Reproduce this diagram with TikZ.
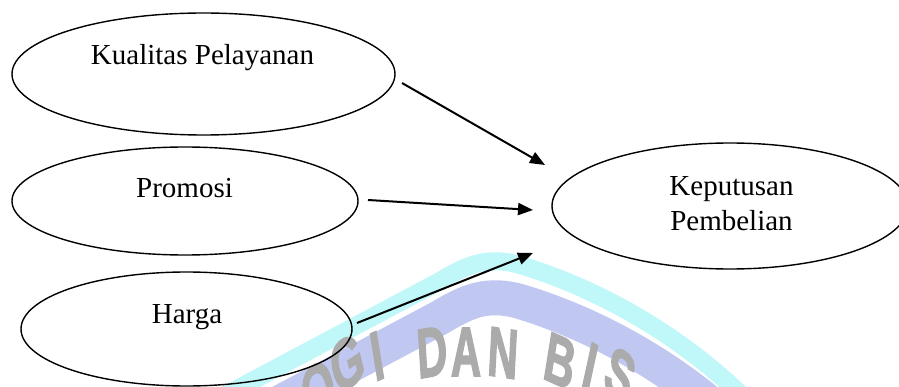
\documentclass[tikz,border=0pt]{standalone}
\usepackage{fontspec}
\setmainfont{Liberation Serif}
\newfontfamily\wmfont[FakeBold=2.5]{Liberation Sans}
\usetikzlibrary{shapes.geometric,arrows.meta}
\definecolor{wmcyan}{HTML}{C0F8FA}
\definecolor{wmblue}{HTML}{C0C8F2}
\definecolor{wmgrey}{HTML}{ABABAB}
\tikzset{
  oval/.style={ellipse, draw=black, line width=1.4pt, inner sep=0pt},
  lbl/.style={font=\fontsize{29}{35}\selectfont, inner sep=0pt},
  link/.style={line width=2pt, -{Triangle[length=15pt,width=12pt]}},
  wmletter/.style={font=\wmfont\bfseries\fontsize{70}{70}\selectfont, text=wmgrey, inner sep=0pt, xscale=0.6}
}
\begin{document}
\begin{tikzpicture}[x=1pt,y=-1pt]
\useasboundingbox (0,0) rectangle (899,387);
\fill[white] (0,0) rectangle (899,387);
% watermark
\begin{scope}
  \clip (0,0) rectangle (899,387);
  \draw[wmcyan, line width=18pt, yshift=-7pt]
    (190,407) -- (440,274) .. controls (468,257) and (488,249) .. (520,258)
    .. controls (600,282) and (690,332) .. (760,407);
  \draw[wmblue, line width=35pt, yshift=-43.5pt]
    (190,407) -- (440,274) .. controls (468,257) and (488,249) .. (520,258)
    .. controls (600,282) and (690,332) .. (760,407);
  \node[wmletter, rotate=28] (w1) at (318,389) {O};
  \node[wmletter, rotate=22] (w2) at (347,363) {G};
  \node[wmletter, rotate=15] (w3) at (377,356) {I};
  \node[wmletter, rotate=6] (w4) at (432,352) {D};
  \node[wmletter, rotate=0] (w5) at (466,352) {A};
  \node[wmletter, rotate=-5] (w6) at (503,353) {N};
  \node[wmletter, rotate=-15] (w7) at (560,361) {B};
  \node[wmletter, rotate=-20] (w8) at (590,367) {I};
  \node[wmletter, rotate=-25] (w9) at (620,375) {S};
\end{scope}
% ellipses
\node[oval, minimum width=383pt, minimum height=122pt] (kp) at (203.5,74) {};
\node[oval, minimum width=346pt, minimum height=108pt] (pr) at (185,201) {};
\node[oval, minimum width=331pt, minimum height=114pt] (hg) at (186.5,329) {};
\node[oval, minimum width=356pt, minimum height=126pt] (kb) at (730,206) {};
% labels
\node[lbl, anchor=base] (kpt) at (202.5,65) {Kualitas Pelayanan};
\node[lbl, anchor=base] (prt) at (184.5,198) {Promosi};
\node[lbl, anchor=base] (hgt) at (187,323) {Harga};
\node[lbl, align=center, anchor=north] (kbt) at (731.5,176) {Keputusan\\Pembelian};
% arrows
\coordinate (a1s) at (402,83);  \coordinate (a1e) at (545,165);
\coordinate (a2s) at (368,200); \coordinate (a2e) at (533,210);
\coordinate (a3s) at (357,323); \coordinate (a3e) at (533,253);
\draw[link] (a1s) -- (a1e);
\draw[link] (a2s) -- (a2e);
\draw[link] (a3s) -- (a3e);
\end{tikzpicture}
\end{document}
